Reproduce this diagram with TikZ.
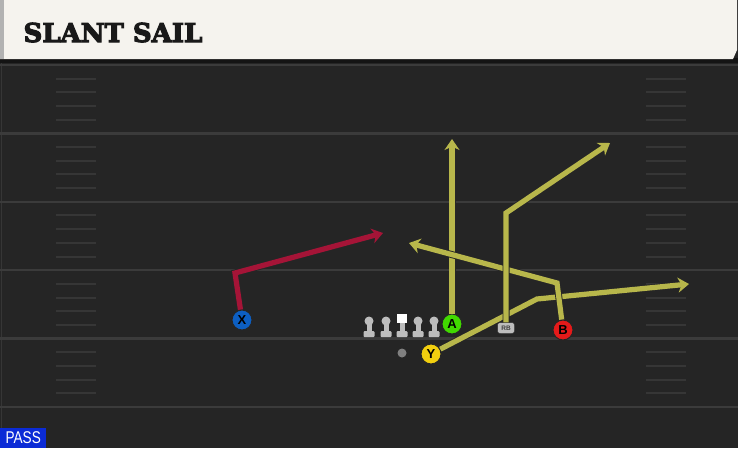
\documentclass[tikz,border=0pt]{standalone}
\usepackage{fontspec}
\setsansfont{Liberation Sans}
\newfontfamily\titlefont{DejaVu Serif}[FakeBold=4]
\newfontfamily\passfont{Liberation Sans}[FakeStretch=0.8]
\usetikzlibrary{arrows.meta}
\definecolor{turf}{HTML}{252525}
\definecolor{chalk}{HTML}{363636}
\definecolor{yardline}{HTML}{3B3B3B}
\definecolor{banner}{HTML}{F5F3EE}
\definecolor{routeyellow}{HTML}{B8B74B}
\definecolor{routered}{HTML}{A51437}
\definecolor{passblue}{HTML}{0B2BD6}
\definecolor{lineman}{HTML}{BDBDBD}

\begin{document}
\begin{tikzpicture}[x=1pt,y=-1pt]
        \tikzset{player/.style={circle,draw=black!85,line width=1pt,minimum size=20pt,inner sep=0pt,
                font=\sffamily\bfseries\fontsize{13}{13}\selectfont},
            route/.style={draw=routeyellow,line width=5.2pt,line join=miter,
                -{Stealth[length=11pt,width=15pt,inset=3.5pt]},
                preaction={draw=black!85,line width=7pt,-{Stealth[length=12.5pt,width=17pt,inset=4pt]}}},
            redroute/.style={route,draw=routered},
            yard/.style={draw=yardline,line width=2.5pt},
            hash/.style={draw=chalk,line width=2pt},
            rbtag/.style={fill=lineman,draw=black!80,line width=0.5pt,rounded corners=2.5pt,
                minimum width=17pt,minimum height=11pt,inner sep=0pt,
                font=\sffamily\bfseries\fontsize{6.5}{6.5}\selectfont,text=black!75}}
        \useasboundingbox (0,0) rectangle (738,448);
        \fill[turf] (0,0) rectangle (738,448);
        \draw[chalk,line width=1pt] (1.5,60) -- (1.5,448);
        \foreach \i in {0,...,5}
            \draw[yard] (0,65+68.4*\i) -- (738,65+68.4*\i);
        \foreach \i in {0,...,4}
            \foreach \k in {1,...,4} {
                \draw[hash] (56,65+68.4*\i+13.68*\k) -- (96,65+68.4*\i+13.68*\k);
                \draw[hash] (646,65+68.4*\i+13.68*\k) -- (686,65+68.4*\i+13.68*\k);
            }
        \fill[black!92] (0,58) rectangle (738,63);
        \fill[banner] (0,0) -- (737,0) -- (737,50) -- (733,59) -- (0,59) -- cycle;
        \fill[black!30] (0,0) rectangle (4,59);
        \node[anchor=base west,text=black!90,font=\titlefont\bfseries\fontsize{26}{26}\selectfont] (title) at (20,42) {SLANT SAIL};

        \foreach \lx in {369,386,418,434} {
            \fill[lineman] (\lx,321) circle (4.5pt);
            \fill[lineman] (\lx-2.5,321) rectangle (\lx+2.5,333);
            \fill[lineman,rounded corners=1pt] (\lx-5.5,331) rectangle (\lx+5.5,337);
        }
        \fill[white] (397,314) rectangle (407,323);
        \fill[lineman] (399.5,323) rectangle (404.5,333);
        \fill[lineman,rounded corners=1pt] (396.5,331) rectangle (407.5,337);
        \fill[black!50] (402,353) circle (4.5pt);

        \node[player,fill=blue!55!cyan!75!black!95!white] (x) at (242,320) {X};
        \node[player,fill=green!60!lime!85!black] (a) at (452,324) {A};
        \node[player,fill=yellow!75!orange!95!black] (y) at (431,354) {Y};
        \node[player,fill=red!85!pink!90!black] (b) at (563,330) {B};
        \node[rbtag] (rb) at (506,328) {RB};

        \coordinate (xcut) at (235,273);
        \coordinate (xend) at (383,233);
        \coordinate (aend) at (452,139);
        \coordinate (ycut) at (537,299);
        \coordinate (yend) at (689,284);
        \coordinate (bcut) at (557,283);
        \coordinate (bend) at (409,243);
        \coordinate (rbcut) at (506,213);
        \coordinate (rbend) at (610,143);

        \draw[redroute] (x) -- (xcut) -- (xend);
        \draw[route] (a) -- (aend);
        \draw[route] (y) -- (ycut) -- (yend);
        \draw[route] (b) -- (bcut) -- (bend);
        \draw[route] (rb.north) -- (rbcut) -- (rbend);

        \node[fill=passblue,text=white,anchor=south west,minimum width=46pt,minimum height=20pt,inner sep=0pt,
            font=\passfont\fontsize{17}{17}\selectfont] (play) at (0,448) {PASS};
    \end{tikzpicture}
\end{document}
